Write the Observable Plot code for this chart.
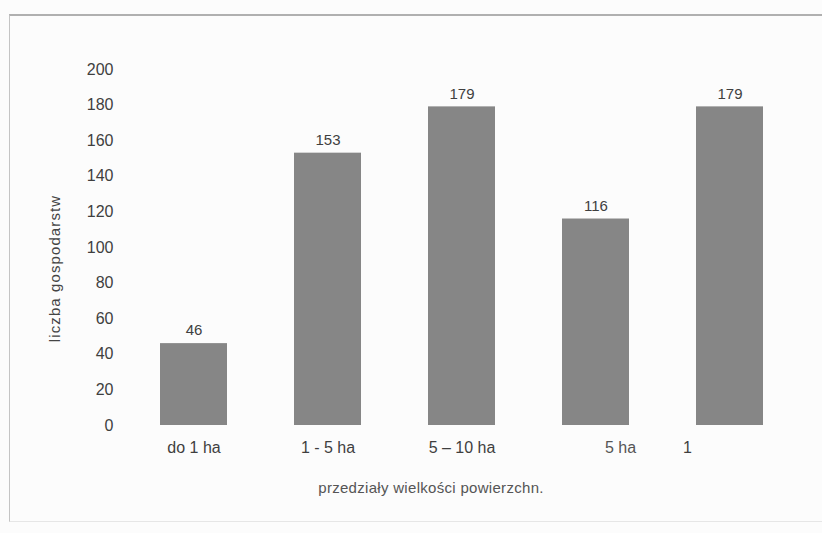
<!DOCTYPE html>
<html>
<head>
<meta charset="utf-8">
<script src="https://cdn.jsdelivr.net/npm/d3@7"></script>
<script src="https://cdn.jsdelivr.net/npm/@observablehq/plot@0.6"></script>
<style>
  html, body { margin: 0; padding: 0; background: #fdfdfd; }
  #wrap { position: relative; width: 822px; height: 533px; overflow: hidden; background: #fcfcfc; }
  #frame { position: absolute; left: 9px; top: 14px; width: 830px; height: 505px;
           border-top: 2px solid #b0b0b0; border-left: 1px solid #c4c4c4; border-bottom: 1px solid #e6e6e6; }
  #chart { position: absolute; left: 0; top: 0; }
  svg text { font-family: "Liberation Sans", Arial, sans-serif; }
</style>
</head>
<body>
<div id="wrap"><div id="frame"></div><div id="chart"></div></div>
<script>
const categories = ["do 1 ha", "1 - 5 ha", "5 – 10 ha", "10 – 15 ha", "pow. 15 ha"];
const tickLabels = ["do 1 ha", "1 - 5 ha", "5 – 10 ha", "5 ha", "1"];
const values = [46, 153, 179, 116, 179];
const yTicks = [0, 20, 40, 60, 80, 100, 120, 140, 160, 180, 200];
const yTitle = "liczba gospodarstw";
const xTitle = "przedziały wielkości powierzchn.";

const data = categories.map((c, i) => ({category: c, value: values[i], label: tickLabels[i], i}));
const ink = "#3f3f3f";

const plot = Plot.plot({
  width: 822,
  height: 533,
  marginLeft: 119,
  marginRight: 18,
  marginTop: 69,
  marginBottom: 108,
  style: {background: "transparent", fontFamily: "Liberation Sans, Arial, sans-serif", color: ink},
  x: {domain: categories, paddingInner: 0.5, paddingOuter: 0.3, axis: null},
  y: {domain: [0, 200], axis: null},
  marks: [
    Plot.axisY({ticks: yTicks, tickSize: 0, tickPadding: 6, label: null, fontSize: 16, fill: ink}),
    Plot.barY(data, {x: "category", y: "value", fill: "#868686"}),
    Plot.text(data, {x: "category", y: "value", text: d => String(d.value), dy: -13, fontSize: 15, fill: ink}),
    Plot.text(data.filter(d => d.i < 3), {x: "category", text: "label", frameAnchor: "bottom", dy: 27, fontSize: 16, fill: ink}),
    Plot.text(data.filter(d => d.i === 3), {x: "category", text: "label", frameAnchor: "bottom", dy: 27, dx: 9, textAnchor: "start", fontSize: 16, fill: "#555"}),
    Plot.text(data.filter(d => d.i === 4), {x: "category", text: "label", frameAnchor: "bottom", dy: 27, dx: -47, textAnchor: "start", fontSize: 16, fill: ink}),
    Plot.text([yTitle], {frameAnchor: "left", rotate: -90, fontSize: 15, fill: "#444", text: d => d}),
    Plot.text([xTitle], {frameAnchor: "bottom", dx: -31, dy: 67, fontSize: 15, fill: "#555", text: d => d})
  ]
});

// position / style the rotated y title explicitly
d3.select(plot).selectAll("text").filter(function() { return this.textContent === yTitle; })
  .attr("x", null).attr("y", null).attr("dx", null).attr("dy", null)
  .attr("transform", "translate(56,268) rotate(-90)")
  .attr("letter-spacing", "1.1")
  .attr("text-anchor", "middle")
  .attr("dominant-baseline", "middle");
d3.select(plot).selectAll("text").filter(function() { return this.textContent === xTitle; })
  .attr("letter-spacing", "0.3");

document.getElementById("chart").appendChild(plot);
</script>
</body>
</html>
